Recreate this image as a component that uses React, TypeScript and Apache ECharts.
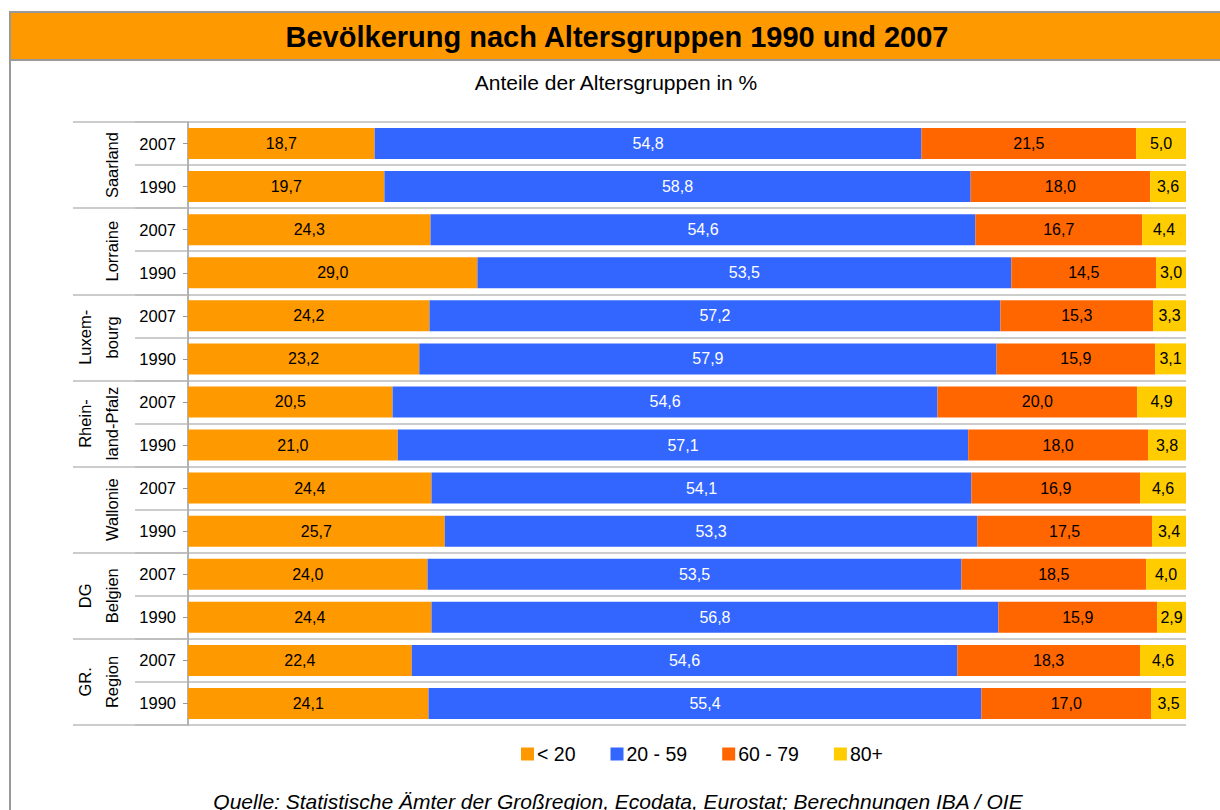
import React, { useEffect, useRef } from "react";
import * as echarts from "echarts";

const groups = ["Saarland", "Lorraine", "Luxem-\nbourg", "Rhein-\nland-Pfalz", "Wallonie", "DG\nBelgien", "GR.\nRegion"];
const years = ["2007", "1990"];
const seriesNames = ["< 20", "20 - 59", "60 - 79", "80+"];
const colors = ["#FF9900", "#3366FF", "#FF6600", "#FFCC00"];

// rows top to bottom: group x year
const under20 = [18.7, 19.7, 24.3, 29.0, 24.2, 23.2, 20.5, 21.0, 24.4, 25.7, 24.0, 24.4, 22.4, 24.1];
const age20to59 = [54.8, 58.8, 54.6, 53.5, 57.2, 57.9, 54.6, 57.1, 54.1, 53.3, 53.5, 56.8, 54.6, 55.4];
const age60to79 = [21.5, 18.0, 16.7, 14.5, 15.3, 15.9, 20.0, 18.0, 16.9, 17.5, 18.5, 15.9, 18.3, 17.0];
const age80plus = [5.0, 3.6, 4.4, 3.0, 3.3, 3.1, 4.9, 3.8, 4.6, 3.4, 4.0, 2.9, 4.6, 3.5];

const values = [under20, age20to59, age60to79, age80plus];

const FONT = "'Liberation Sans', Arial, sans-serif";

export default function App() {
  const ref = useRef<HTMLDivElement>(null);

  useEffect(() => {
    document.body.style.margin = "0";
    const chart = echarts.init(ref.current!, undefined, { renderer: "svg" });

    const rowKeys: string[] = [];
    groups.forEach((g) => years.forEach((y) => rowKeys.push(g + "|" + y)));
    const totals = rowKeys.map((_, i) => values.reduce((s, arr) => s + arr[i], 0));

    const fmt = (v: number) => v.toFixed(1).replace(".", ",");

    const series = values.map((arr, si) => ({
      name: seriesNames[si],
      type: "bar",
      stack: "total",
      yAxisIndex: 0,
      barCategoryGap: "28%",
      itemStyle: { color: colors[si] },
      data: arr.map((v, i) => (v / totals[i]) * 100),
      label: {
        show: true,
        position: "inside",
        color: si === 1 ? "#ffffff" : "#000000",
        fontSize: 16,
        fontFamily: FONT,
        formatter: (p: any) => fmt(arr[p.dataIndex]),
      },
    }));

    chart.setOption({
      animation: false,
      backgroundColor: "#ffffff",
      textStyle: { fontFamily: FONT },
      graphic: [
        {
          type: "rect",
          z: -10,
          shape: { x: 10, y: 12, width: 1230, height: 820 },
          style: { fill: "#ffffff", stroke: "#999999", lineWidth: 2 },
        },
        {
          type: "rect",
          z: -5,
          shape: { x: 10, y: 12, width: 1230, height: 48 },
          style: { fill: "#FF9900", stroke: "#999999", lineWidth: 2 },
        },
        {
          type: "text",
          x: 618,
          y: 801,
          style: {
            text: "Quelle: Statistische Ämter der Großregion, Ecodata, Eurostat; Berechnungen IBA / OIE",
            textAlign: "center",
            textVerticalAlign: "middle",
            fontFamily: FONT,
            fontStyle: "italic",
            fontSize: 21,
            fill: "#000000",
          },
        },
      ],
      title: [
        {
          text: "Bevölkerung nach Altersgruppen 1990 und 2007",
          left: 617,
          top: 22,
          textAlign: "center",
          padding: 0,
          textStyle: { fontFamily: FONT, fontSize: 29, fontWeight: "bold", color: "#000000" },
        },
        {
          text: "Anteile der Altersgruppen in %",
          left: 616,
          top: 72,
          textAlign: "center",
          padding: 0,
          textStyle: { fontFamily: FONT, fontSize: 21, fontWeight: "normal", color: "#000000" },
        },
      ],
      legend: {
        data: seriesNames,
        left: 521,
        top: 744,
        itemWidth: 13,
        itemHeight: 13,
        itemGap: 35,
        icon: "rect",
        padding: 0,
        textStyle: { fontFamily: FONT, fontSize: 19.5, color: "#000000", padding: [0, 0, 0, -2] },
      },
      grid: { left: 188, right: 34, top: 122, bottom: 85, containLabel: false },
      xAxis: { type: "value", min: 0, max: 100, show: false },
      yAxis: [
        {
          type: "category",
          inverse: true,
          data: rowKeys,
          position: "left",
          axisLine: { show: true, lineStyle: { color: "#999999", width: 1.5 } },
          axisTick: { show: true, alignWithLabel: true, length: 5, lineStyle: { color: "#999999" } },
          axisLabel: {
            margin: 12,
            fontSize: 16.5,
            fontFamily: FONT,
            color: "#000000",
            formatter: (v: string) => v.split("|")[1],
          },
          splitLine: { show: true, lineStyle: { color: "#bbbbbb", width: 1.5 } },
        },
        {
          type: "category",
          inverse: true,
          data: rowKeys,
          position: "left",
          axisLine: { show: false },
          axisTick: { show: true, interval: 0, length: 53, lineStyle: { color: "#bbbbbb", width: 1.5 } },
          axisLabel: { show: false },
          splitLine: { show: false },
        },
        {
          type: "category",
          inverse: true,
          data: groups,
          position: "left",
          axisLine: { show: false },
          axisTick: { show: true, interval: 0, length: 115, lineStyle: { color: "#bbbbbb", width: 1.5 } },
          axisLabel: {
            show: true,
            interval: 0,
            rotate: 90,
            margin: 63,
            fontSize: 16.5,
            lineHeight: 27,
            fontFamily: FONT,
            color: "#000000",
          },
          splitLine: { show: false },
        },
      ],
      series,
    });

    return () => chart.dispose();
  }, []);

  return <div ref={ref} style={{ width: 1220, height: 810 }} />;
}
